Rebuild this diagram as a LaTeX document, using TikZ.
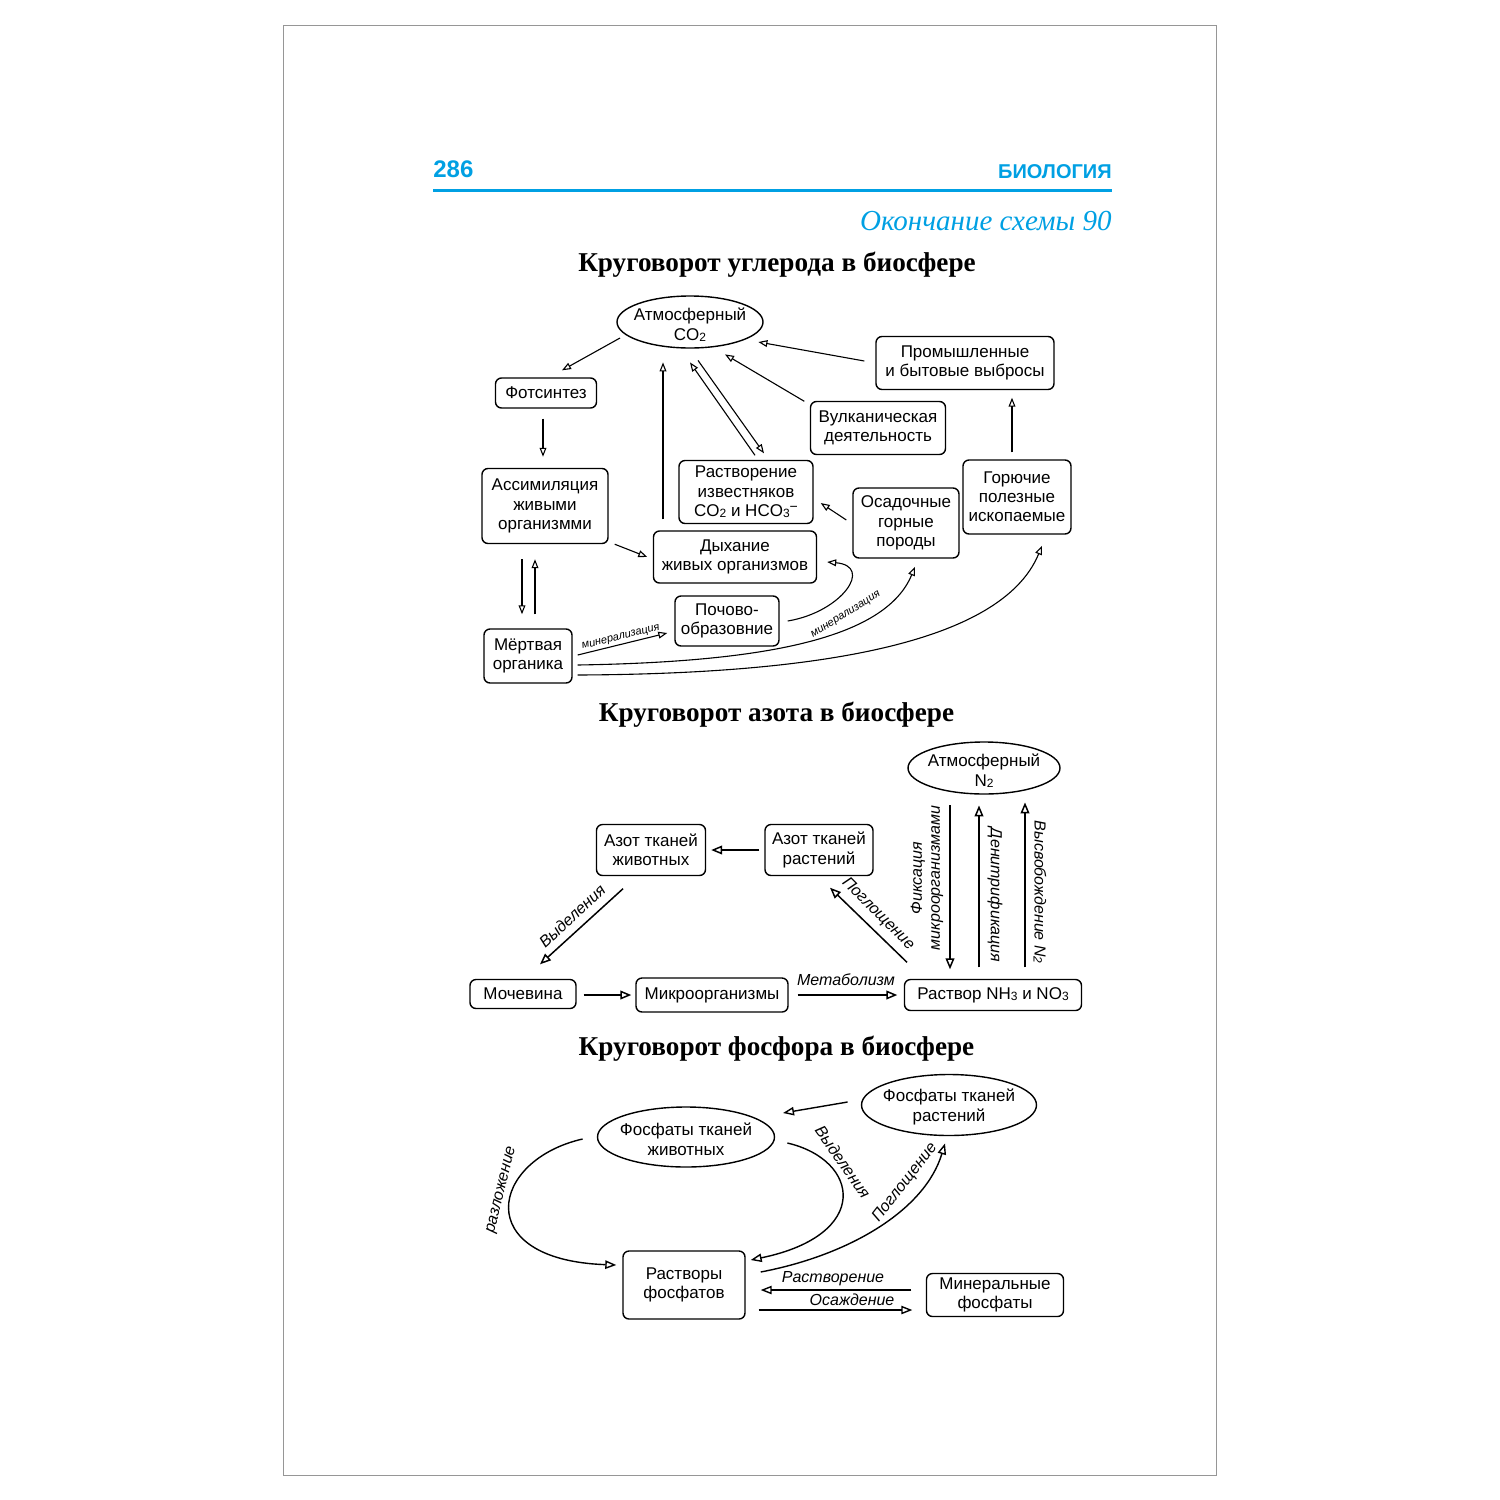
\documentclass[tikz,border=0pt]{standalone}
\usepackage{fontspec}
\setmainfont{Liberation Serif}
\setsansfont{Liberation Sans}
\usetikzlibrary{arrows.meta,shapes.geometric,calc}
\definecolor{hdrblue}{RGB}{0,160,227}
\definecolor{frame}{RGB}{150,150,150}
\newcommand\lowsub[1]{\raisebox{-0.6pt}{\fontsize{6}{6}\selectfont #1}}
\begin{document}
\begin{tikzpicture}[x=0.5pt,y=-0.5pt,
  wh/.style 2 args={minimum width=#1*0.5pt, minimum height=#2*0.5pt},
  box/.style={draw, rounded corners=3pt, line width=0.7pt, align=center, inner sep=0pt,
    font=\sffamily\fontsize{8.5}{9.6}\selectfont},
  ellbox/.style={inner sep=0pt},
  elltext/.style={align=center, inner sep=0pt,
    font=\sffamily\fontsize{8.5}{9.8}\selectfont},
  ellline/.style={line width=0.7pt},
  arr/.style={line width=0.55pt, -{Triangle[open, length=4.5pt, width=3.4pt]}},
  narr/.style={line width=0.75pt, -{Triangle[open, length=5.5pt, width=4.4pt]}},
  parr/.style={line width=0.7pt, -{Triangle[open, length=5.5pt, width=4.2pt]}},
  lbl/.style={font=\sffamily\itshape\fontsize{8}{9}\selectfont, inner sep=1pt},
  mlbl/.style={font=\sffamily\itshape\fontsize{5.5}{6}\selectfont, inner sep=1pt},
  ttl/.style={font=\bfseries\fontsize{13.6}{15}\selectfont, anchor=base}
]
\useasboundingbox (0,0) rectangle (1500,1500);
\fill[white] (0,0) rectangle (1500,1500);
\draw[frame, line width=0.5pt] (283.5,25.5) rectangle (1216.5,1475.5);

% header
\node[anchor=base west, inner sep=0pt, text=hdrblue, font=\sffamily\bfseries\fontsize{12}{14}\selectfont] (pg) at (433,177) {286};
\node[anchor=base east, inner sep=0pt, text=hdrblue, font=\sffamily\bfseries\fontsize{10}{12}\selectfont] (subj) at (1112,178) {БИОЛОГИЯ};
\draw[hdrblue, line width=1.5pt] (433,190) -- (1112,190);
\node[anchor=base east, inner sep=0pt, text=hdrblue, font=\itshape\fontsize{14.5}{16}\selectfont] (cont) at (1112,230) {Окончание схемы 90};

% ---------------- carbon ----------------
\node[ttl] (t1) at (777,271) {Круговорот углерода в биосфере};
\node[ellbox, wh={146}{52}] (co2) at (690,322) {};
\draw[ellline] (co2.center) ellipse [x radius=36.5pt, y radius=13pt];
\node[elltext] (co2t) at ($(co2)+(0,3)$) {Атмосферный\\CO\lowsub{2}};
\node[box, wh={101}{30}] (fot) at (546,393) {Фотсинтез};
\node[box, wh={126}{75}] (asm) at (545,506) {Ассимиляция\\живыми\\организмми};
\node[box, wh={134}{63}] (rast) at (746,492) {Растворение\\известняков\\CO\lowsub{2} и HCO\lowsub{3}\raisebox{2.5pt}{\fontsize{7}{7}\selectfont −}};
\node[box, wh={163}{52}] (dyh) at (735,557) {Дыхание\\живых организмов};
\node[box, wh={135}{53}] (vulk) at (878,428) {Вулканическая\\деятельность};
\node[box, wh={178}{53}] (prom) at (965,363) {Промышленные\\и бытовые выбросы};
\node[box, wh={106}{70}] (osad) at (906,523) {Осадочные\\горные\\породы};
\node[box, wh={108}{74}] (gor) at (1017,497) {Горючие\\полезные\\ископаемые};
\node[box, wh={104}{50}] (poch) at (727,621) {Почово-\\образовние};
\node[box, wh={88}{54}] (mert) at (528,656) {Мёртвая\\органика};

\draw[arr] ($(co2)+(-70,16)$) -- ($(fot.north)+(16,-7)$);
\draw[arr] ($(fot.south)+(-3,10)$) -- ($(asm.north)+(-2,-11)$);
\draw[arr] ($(asm.south east)+(6,0)$) -- ($(dyh.west)+(-5.5,0)$);
\draw[arr] ($(dyh.north)+(-72,-11)$) -- ($(co2.south)+(-27,14)$);
\draw[arr] ($(rast.north)+(9,-4.5)$) -- ($(co2.south)+(0,14)$);
\draw[arr] ($(co2.south)+(8,12)$) -- ($(rast.north)+(18,-6.5)$);
\draw[arr] ($(vulk.north west)+(-5.5,0.5)$) -- ($(co2.south)+(35,6)$);
\draw[arr] ($(prom.west)+(-11,-2)$) -- ($(co2.east)+(-5,20)$);
\draw[arr] ($(gor.north)+(-5,-7)$) -- ($(prom.south)+(47,7.5)$);
\draw[arr] ($(osad.west)+(-6,-3)$) -- ($(rast.east)+(7,11)$);
\draw[arr] ($(asm.south)+(-23,15)$) -- ($(mert.north)+(-6,-14)$);
\draw[arr] ($(mert.north)+(7,-14)$) -- ($(asm.south)+(-10,15)$);
\draw[arr] ($(mert.east)+(5,-1)$) -- node[mlbl, sloped, above] {минерализация} ($(poch.west)+(-7,12)$);
\draw[arr] ($(poch.east)+(8,0)$) .. controls (842,612) and (874,566) .. ($(dyh.east)+(10,5)$);
\draw[arr] ($(mert.east)+(5,9)$) .. controls (760,662) and (885,640) .. ($(osad.south)+(9,8)$);
\draw[arr] ($(mert.east)+(5,19)$) .. controls (800,674) and (1000,648) .. ($(gor.south)+(25,11)$);
\node[mlbl, rotate=32] (minlbl) at (846,615) {минерализация};

% ---------------- nitrogen ----------------
\node[ttl] (t2) at (776.5,721) {Круговорот азота в биосфере};
\node[ellbox, wh={152}{52}] (n2) at (984,768) {};
\draw[ellline] (n2.center) ellipse [x radius=38pt, y radius=13pt];
\node[elltext] (n2t) at ($(n2)+(0,2.5)$) {Атмосферный\\N\lowsub{2}};
\node[box, wh={109}{51}] (azj) at (651,850) {Азот тканей\\животных};
\node[box, wh={108}{51}] (azr) at (819,850) {Азот тканей\\растений};
\node[box, wh={106}{29}] (moch) at (523,994) {Мочевина};
\node[box, wh={152}{34}] (mikro) at (712,995) {Микроорганизмы};
\node[box, wh={177}{31}] (rastv) at (993,995) {Раствор NH\lowsub{3} и NO\lowsub{3}};

\draw[narr] ($(azr.west)+(-5,0)$) -- ($(azj.east)+(5,0)$);
\draw[narr] ($(azj.south)+(-28,12.5)$) -- ($(moch.north)+(17,-14.5)$);
\draw[narr] ($(moch.east)+(7,1)$) -- ($(mikro.west)+(-4,0)$);
\draw[narr] ($(mikro.east)+(9,0)$) -- ($(rastv.west)+(-6.5,0)$);
\draw[narr] ($(rastv.north)+(-86,-16.5)$) -- ($(azr.south)+(11,11.5)$);
\draw[narr] ($(n2.south)+(-34,11)$) -- ($(rastv.north)+(-43,-9.5)$);
\draw[narr] ($(rastv.north)+(-14,-11.5)$) -- ($(n2.south)+(-5,11)$);
\draw[narr] ($(rastv.north)+(32,-11.5)$) -- ($(n2.south)+(41,8)$);
\node[lbl, rotate=43] (lvydn) at (572,916) {Выделения};
\node[lbl] (lmet) at (846,980) {Метаболизм};
\node[lbl, rotate=-45] (lpogn) at (878,914) {Поглощение};
\node[lbl, rotate=90, align=center] (fixl) at (927,878) {Фиксация\\микроорганизмами};
\node[lbl, rotate=-90] (denl) at (995,895) {Денитрификация};
\node[lbl, rotate=-90] (rell) at (1040,892) {Высвобождение N\lowsub{2}};

% ---------------- phosphorus ----------------
\node[ttl] (t3) at (776.5,1055) {Круговорот фосфора в биосфере};
\node[ellbox, wh={175}{61}] (frast) at (949,1105) {};
\draw[ellline] (frast.center) ellipse [x radius=43.75pt, y radius=15.25pt];
\node[elltext] (frastt) at ($(frast)+(0,2)$) {Фосфаты тканей\\растений};
\node[ellbox, wh={177}{60}] (fzhiv) at (686,1137) {};
\draw[ellline] (fzhiv.center) ellipse [x radius=44.25pt, y radius=15pt];
\node[elltext] (fzhivt) at ($(fzhiv)+(0,2)$) {Фосфаты тканей\\животных};
\node[box, wh={122}{68}] (rfos) at (684,1285) {Растворы\\фосфатов};
\node[box, wh={137}{43}] (minf) at (995,1295) {Минеральные\\фосфаты};

\draw[parr] ($(frast.west)+(-13.5,-3)$) -- ($(fzhiv)+(97,-24)$);
\draw[parr] ($(fzhiv.west)+(-14.5,2)$) .. controls (490,1160) and (470,1260) .. ($(rfos.west)+(-6,-20)$);
\draw[parr] ($(fzhiv.east)+(12.5,6)$) .. controls (860,1160) and (872,1235) .. ($(rfos.east)+(5,-25)$);
\draw[parr] ($(rfos.east)+(15,-13)$) .. controls (850,1255) and (925,1210) .. ($(frast.south)+(-4,7.5)$);
\draw[parr] ($(minf.west)+(-14.5,-5)$) -- ($(rfos.east)+(15,5)$);
\draw[parr] ($(rfos.east)+(13,25)$) -- ($(minf.west)+(-13.5,15)$);
\node[lbl] (lrast) at (833,1279) {Растворение};
\node[lbl] (losa) at (852,1300) {Осаждение};
\node[lbl, rotate=76] (lraz) at (502,1190) {разложение};
\node[lbl, rotate=-55] (lvyd) at (843,1162) {Выделения};
\node[lbl, rotate=52] (lpog) at (905,1183) {Поглощение};
\end{tikzpicture}
\end{document}
